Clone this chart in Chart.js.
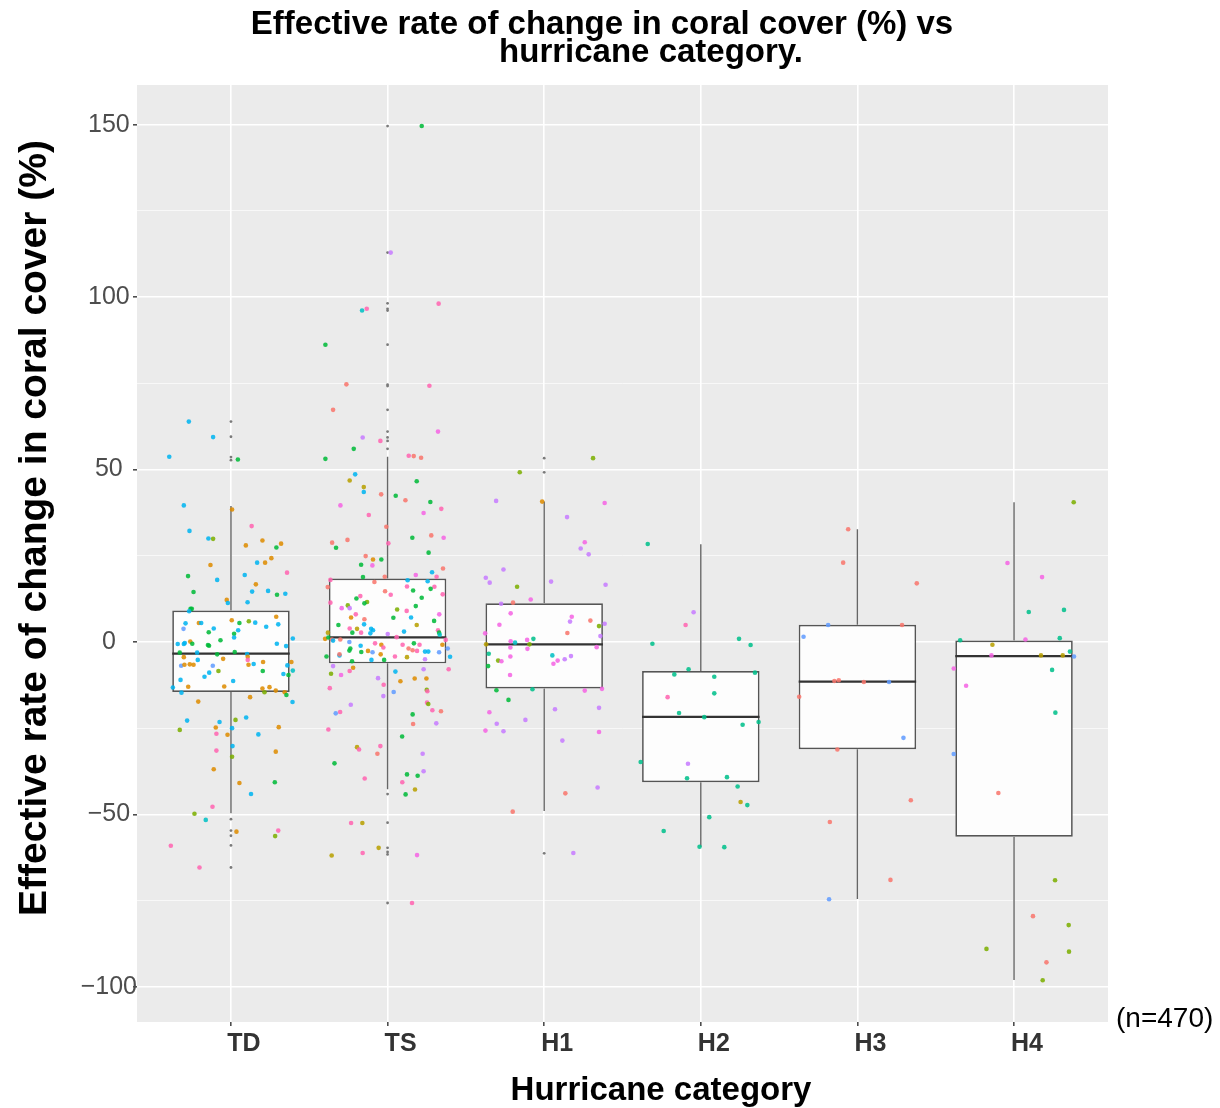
<!DOCTYPE html>
<html>
<head>
<meta charset="utf-8">
<title>Effective rate of change in coral cover vs hurricane category</title>
<script src="https://cdn.jsdelivr.net/npm/chart.js@4.4.1/dist/chart.umd.min.js"></script>
<style>
  html, body { margin: 0; padding: 0; background: #ffffff; }
  canvas { display: block; }
</style>
</head>
<body>
<canvas id="chart" width="1220" height="1108"></canvas>
<script>
// ---- Categories and box statistics ----
const categories = ['TD', 'TS', 'H1', 'H2', 'H3', 'H4'];
const q1          = [-14.5, -6.2, -13.5, -40.7, -31.1, -56.5];
const q3          = [  9.1, 18.4,  11.2,  -8.4,   5.0,   0.4];
const medians     = [ -3.4,  1.3,  -0.7, -21.7, -11.5,  -4.1];
const whiskerLow  = [-49.7, -42.7, -49.0, -59.4, -74.5, -98.0];
const whiskerHigh = [ 39.4, 53.7,  40.7,  28.3,  32.7,  40.5];

// Outliers drawn by the box layer (centred on each category)
const tdOutliers = [63.9, 59.5, 53.6, 52.7, -51.4, -54.7, -56.2, -59.0, -65.4];
const tsOutliers = [149.6, 112.9, 98.2, 96.6, 96.1, 86.2, 74.6, 74.2, 67.3, 61.0, 59.3, 58.3, 56.0,
                    -44.1, -52.4, -59.7, -60.9, -61.6, -75.7];
const h1Outliers = [53.3, 49.2, -61.3];
const h2Outliers = [];
const h3Outliers = [];
const h4Outliers = [];

// ---- Axis ticks ----
const yMajorTicks = [-100, -50, 0, 50, 100, 150];
const yMinorTicks = [-75, -25, 25, 75, 125];

// Group colour palette (index used by the third field of each point)
const groupColors = ['#F8766D', '#DE8C00', '#B79F00', '#7CAE00', '#00BA38', '#00C08B',
                     '#00BFC4', '#00B4F0', '#619CFF', '#C77CFF', '#F564E3', '#FF64B0'];

// ---- Individual observations: [horizontal jitter, value (%), group] ----
const tdPoints = [
  [-0.269, 63.9, 7], [-0.114, 59.4, 7], [-0.394, 53.7, 7], [0.044, 52.9, 4], [-0.301, 39.6, 7],
  [0.007, 38.4, 1], [0.132, 33.6, 11], [-0.265, 32.2, 7], [-0.144, 30.0, 7], [-0.114, 29.9, 3],
  [0.201, 29.4, 1], [0.095, 28.0, 1], [0.320, 28.5, 1], [0.290, 27.4, 4], [0.258, 24.3, 1],
  [-0.131, 22.3, 1], [0.167, 23.0, 7], [0.218, 23.0, 1], [0.358, 20.1, 11], [-0.274, 19.1, 4],
  [0.088, 19.4, 7], [-0.088, 18.0, 7], [0.159, 16.7, 1], [-0.239, 14.5, 4], [0.135, 14.6, 7],
  [0.237, 14.8, 7], [0.294, 13.7, 4], [0.347, 14.0, 7], [-0.027, 12.2, 1], [-0.020, 11.3, 7],
  [0.106, 11.5, 7], [-0.258, 9.6, 4], [-0.250, 9.6, 4], [-0.267, 8.9, 7], [-0.290, 5.4, 7],
  [-0.205, 5.5, 1], [-0.190, 5.5, 7], [0.005, 6.3, 1], [0.054, 5.5, 4], [0.114, 6.0, 3],
  [0.155, 5.6, 7], [0.289, 7.3, 1], [0.302, 5.1, 7], [0.225, 4.4, 7], [-0.303, 3.8, 8],
  [-0.110, 3.9, 7], [-0.142, 2.8, 4], [0.046, 3.4, 7], [0.020, 2.4, 4], [0.020, 1.3, 7],
  [-0.067, 0.5, 4], [0.395, 1.0, 7], [-0.260, 0.1, 1], [-0.247, -0.5, 4], [-0.340, -0.6, 7],
  [-0.301, -0.6, 7], [-0.295, -0.3, 7], [-0.147, -0.9, 4], [-0.140, -1.1, 4], [0.293, -0.5, 7],
  [0.352, -1.2, 7], [-0.327, -3.1, 4], [-0.216, -3.1, 7], [-0.088, -3.6, 4], [0.024, -2.9, 4],
  [0.103, -3.5, 7], [-0.301, -4.4, 1], [-0.212, -5.2, 7], [-0.050, -4.9, 1], [0.107, -4.3, 1],
  [0.107, -5.2, 11], [0.205, -5.8, 1], [0.145, -6.4, 7], [0.112, -6.6, 1], [-0.318, -6.9, 8],
  [-0.297, -6.6, 1], [-0.263, -6.5, 1], [-0.239, -6.6, 1], [-0.116, -6.9, 8], [0.360, -6.8, 7],
  [0.386, -5.8, 1], [0.203, -8.4, 4], [-0.080, -8.4, 3], [-0.139, -8.9, 7], [0.335, -9.3, 7],
  [0.367, -9.6, 4], [0.395, -8.3, 6], [-0.169, -10.1, 7], [-0.322, -11.0, 7], [0.014, -11.3, 7],
  [-0.371, -13.2, 7], [-0.273, -13.0, 1], [-0.043, -12.9, 1], [0.201, -13.5, 1], [0.246, -13.1, 1],
  [0.286, -14.1, 1], [0.343, -14.6, 1], [0.214, -14.6, 3], [0.354, -15.4, 4], [-0.316, -14.7, 7],
  [-0.209, -17.3, 1], [0.122, -16.0, 1], [0.393, -17.4, 7], [-0.280, -22.8, 7], [-0.073, -23.2, 7],
  [0.029, -22.6, 3], [0.097, -21.9, 7], [-0.327, -25.5, 3], [-0.097, -24.8, 1], [0.007, -25.0, 7],
  [0.305, -24.7, 1], [-0.093, -26.6, 11], [-0.022, -26.9, 1], [0.175, -26.8, 7], [0.010, -30.2, 7],
  [-0.093, -31.5, 11], [0.286, -31.8, 1], [0.007, -33.3, 3], [-0.110, -36.9, 1], [0.054, -40.9, 1],
  [0.280, -40.7, 4], [0.128, -44.1, 7], [-0.118, -47.8, 11], [-0.233, -49.8, 3], [-0.161, -51.6, 6],
  [0.035, -55.0, 1], [0.302, -54.7, 11], [0.282, -56.3, 3], [-0.384, -59.1, 11], [-0.201, -65.4, 11]
];

const tsPoints = [
  [0.218, 149.6, 4], [0.020, 112.9, 9], [0.326, 98.1, 11], [-0.163, 96.1, 6], [-0.133, 96.6, 11],
  [-0.397, 86.2, 4], [-0.263, 74.7, 0], [0.267, 74.3, 11], [-0.348, 67.3, 0], [0.322, 61.0, 10],
  [-0.159, 59.3, 9], [-0.046, 58.3, 11], [-0.216, 56.0, 4], [-0.397, 53.1, 4], [0.135, 54.0, 11],
  [0.167, 53.9, 0], [0.214, 53.4, 0], [-0.207, 48.6, 7], [-0.242, 46.8, 2], [0.186, 46.6, 4],
  [-0.152, 44.9, 2], [-0.152, 43.5, 7], [-0.041, 42.8, 0], [0.052, 42.4, 4], [0.114, 41.1, 0],
  [0.273, 40.6, 4], [-0.301, 39.6, 10], [0.343, 38.6, 11], [0.230, 37.4, 10], [-0.120, 36.8, 11],
  [-0.008, 33.4, 0], [-0.354, 28.8, 0], [-0.256, 29.6, 0], [-0.329, 27.3, 4], [0.158, 30.2, 4],
  [0.279, 30.9, 0], [0.358, 30.2, 10], [0.005, 28.6, 11], [0.262, 25.9, 4], [-0.140, 24.9, 0],
  [-0.093, 23.9, 1], [-0.040, 23.9, 4], [-0.169, 22.4, 4], [-0.097, 22.2, 10], [0.354, 21.3, 0],
  [0.284, 20.2, 7], [0.180, 19.4, 10], [-0.157, 18.8, 4], [-0.018, 18.9, 0], [0.313, 18.9, 11],
  [0.128, 17.9, 7], [0.256, 17.6, 7], [-0.365, 18.0, 11], [-0.084, 17.4, 0], [-0.382, 15.9, 0],
  [0.124, 16.1, 11], [0.299, 16.0, 11], [0.275, 15.4, 4], [0.163, 14.9, 4], [-0.016, 14.7, 0],
  [0.020, 13.7, 11], [0.352, 13.8, 11], [-0.174, 13.3, 11], [-0.199, 12.6, 4], [0.218, 12.8, 4],
  [-0.365, 11.4, 11], [-0.131, 11.6, 3], [-0.148, 11.2, 4], [-0.254, 10.6, 3], [-0.242, 9.8, 9],
  [0.180, 10.4, 4], [-0.293, 9.8, 10], [0.061, 9.4, 3], [0.122, 9.0, 11], [-0.203, 8.0, 11],
  [0.330, 8.0, 10], [0.150, 7.1, 7], [0.037, 7.0, 4], [-0.233, 7.1, 1], [-0.148, 6.6, 0],
  [0.297, 6.1, 4], [-0.314, 4.9, 4], [-0.150, 5.1, 7], [0.186, 4.9, 2], [-0.242, 3.9, 11],
  [-0.195, 3.8, 2], [-0.105, 3.8, 7], [-0.093, 3.4, 7], [-0.225, 2.7, 4], [-0.169, 2.7, 11],
  [-0.110, 2.5, 7], [0.001, 2.3, 9], [0.105, 3.0, 7], [0.322, 3.4, 11], [0.329, 2.7, 4],
  [0.333, 2.1, 6], [-0.381, 2.7, 2], [-0.399, 0.9, 1], [-0.378, 1.3, 4], [-0.355, 0.7, 0],
  [-0.302, 0.7, 0], [-0.348, 0.4, 7], [0.058, 1.4, 11], [0.371, 0.6, 11], [-0.244, 0.0, 8],
  [-0.172, -1.1, 7], [-0.080, -0.4, 11], [-0.040, -0.8, 1], [-0.027, -1.6, 11], [0.096, -0.8, 11],
  [0.168, -0.4, 4], [0.204, -0.8, 11], [0.350, -0.8, 1], [-0.238, -1.9, 4], [-0.244, -2.5, 4],
  [-0.125, -2.6, 1], [-0.096, -3.0, 8], [-0.168, -2.9, 4], [-0.044, -3.6, 1], [0.134, -1.9, 0],
  [0.160, -2.4, 0], [0.188, -2.6, 11], [0.239, -2.8, 7], [0.260, -2.8, 7], [0.329, -3.0, 8],
  [0.384, -1.9, 8], [-0.390, -4.2, 4], [-0.307, -3.9, 7], [-0.307, -3.6, 0], [0.124, -4.4, 2],
  [0.047, -4.2, 11], [0.399, -4.3, 7], [-0.227, -5.6, 4], [-0.103, -5.2, 7], [-0.022, -5.2, 4],
  [0.239, -5.0, 9], [-0.348, -7.0, 9], [-0.220, -7.5, 1], [-0.242, -8.4, 11], [-0.361, -9.2, 3],
  [-0.297, -9.6, 10], [0.050, -8.6, 7], [0.230, -7.9, 9], [0.390, -7.9, 11], [-0.061, -10.5, 9],
  [0.082, -11.4, 1], [0.173, -10.6, 1], [0.248, -10.6, 1], [-0.369, -13.4, 11], [-0.025, -12.4, 11],
  [0.039, -14.5, 8], [0.250, -13.9, 3], [0.254, -14.3, 11], [-0.027, -15.7, 9], [-0.235, -18.2, 9],
  [0.252, -17.6, 11], [0.260, -18.0, 3], [-0.331, -20.7, 8], [-0.303, -20.3, 11], [0.286, -19.8, 11],
  [0.341, -20.1, 0], [0.160, -21.0, 4], [0.163, -23.8, 0], [0.311, -23.6, 9], [-0.378, -25.4, 11],
  [0.093, -27.4, 4], [-0.195, -30.5, 2], [-0.182, -31.2, 11], [-0.046, -30.2, 11], [-0.065, -32.4, 0],
  [0.224, -32.4, 9], [-0.339, -35.2, 4], [0.230, -37.5, 9], [0.124, -38.4, 4], [0.192, -38.8, 4],
  [-0.146, -39.6, 11], [0.094, -40.7, 11], [0.175, -42.8, 2], [0.115, -44.2, 4], [-0.233, -52.5, 11],
  [-0.161, -52.5, 2], [-0.057, -59.7, 2], [-0.357, -61.9, 2], [-0.159, -61.2, 11], [0.188, -61.8, 10],
  [0.156, -75.7, 11]
];

const h1Points = [
  [0.312, 53.3, 3], [-0.156, 49.2, 3], [-0.307, 40.9, 9], [-0.013, 40.7, 1], [0.386, 40.3, 10],
  [0.146, 36.2, 9], [0.259, 28.9, 10], [0.233, 27.1, 9], [0.284, 25.4, 9], [-0.260, 21.0, 9],
  [-0.373, 18.6, 9], [-0.348, 17.2, 9], [-0.173, 16.0, 3], [0.044, 17.5, 9], [0.392, 16.6, 9],
  [-0.086, 12.3, 10], [-0.275, 11.1, 9], [-0.199, 11.4, 0], [-0.214, 8.3, 10], [0.176, 7.3, 10],
  [0.165, 5.9, 9], [0.295, 6.2, 0], [-0.286, 5.0, 10], [0.350, 4.6, 3], [0.386, 5.3, 9],
  [-0.377, 2.5, 10], [0.148, 2.6, 0], [0.359, 1.7, 9], [-0.069, 0.9, 5], [-0.109, 0.6, 10],
  [-0.214, 0.2, 10], [-0.186, -0.2, 6], [-0.094, -0.7, 3], [-0.371, -0.7, 2], [-0.216, -1.6, 10],
  [-0.107, -2.0, 10], [0.335, -1.5, 10], [-0.354, -3.4, 5], [-0.216, -4.2, 10], [0.052, -3.9, 6],
  [0.171, -4.1, 9], [0.131, -5.0, 9], [0.086, -5.4, 10], [0.059, -6.3, 10], [-0.294, -5.4, 3],
  [-0.273, -5.6, 10], [-0.358, -7.0, 4], [-0.218, -9.6, 10], [-0.305, -14.0, 4], [-0.075, -13.7, 5],
  [0.259, -14.1, 10], [0.369, -13.6, 10], [-0.228, -16.8, 4], [-0.350, -20.4, 10], [0.069, -19.5, 9],
  [0.350, -19.1, 9], [-0.303, -23.7, 9], [-0.120, -22.6, 9], [-0.375, -25.7, 10], [-0.260, -25.9, 9],
  [0.350, -26.1, 10], [0.116, -28.6, 9], [0.341, -42.2, 9], [0.135, -43.9, 0], [-0.201, -49.2, 0],
  [0.186, -61.2, 9]
];

const h2Points = [
  [-0.339, 28.4, 5], [-0.046, 8.6, 9], [-0.097, 4.9, 11], [-0.309, -0.5, 5], [0.244, 0.9, 5],
  [0.318, -0.9, 5], [-0.078, -7.9, 5], [-0.169, -9.4, 5], [0.086, -10.1, 5], [0.346, -8.9, 5],
  [0.086, -14.9, 5], [-0.212, -16.0, 11], [-0.139, -20.6, 5], [0.022, -21.8, 5], [0.267, -24.0, 5],
  [0.369, -23.2, 5], [-0.384, -34.8, 5], [-0.082, -35.3, 9], [-0.088, -39.5, 5], [0.167, -39.2, 5],
  [0.235, -41.9, 5], [0.254, -46.4, 2], [0.297, -47.3, 5], [0.054, -50.8, 5], [-0.237, -54.8, 5],
  [-0.008, -59.4, 5], [0.150, -59.5, 5]
];

const h3Points = [
  [-0.059, 32.7, 0], [-0.091, 23.0, 0], [0.379, 17.0, 0], [-0.187, 4.9, 8], [0.285, 4.9, 0],
  [-0.344, 1.5, 8], [-0.147, -11.3, 0], [-0.119, -11.1, 0], [0.041, -11.6, 0], [0.202, -11.6, 8],
  [-0.372, -15.9, 0], [0.294, -27.8, 8], [-0.128, -31.2, 0], [0.341, -45.9, 0], [-0.176, -52.2, 0],
  [0.211, -69.0, 0], [-0.181, -74.6, 8]
];

const h4Points = [
  [0.381, 40.5, 3], [-0.042, 22.9, 10], [0.179, 18.8, 10], [0.094, 8.7, 5], [0.319, 9.3, 5],
  [0.073, 0.7, 10], [0.292, 1.1, 5], [-0.344, 0.5, 5], [-0.138, -0.8, 2], [0.357, -2.8, 5],
  [-0.144, -3.9, 10], [0.172, -3.9, 2], [0.311, -3.9, 2], [0.383, -4.2, 8], [-0.385, -7.7, 10],
  [0.243, -8.1, 5], [-0.306, -12.7, 10], [0.264, -20.5, 5], [-0.385, -32.5, 8], [-0.100, -43.8, 0],
  [0.262, -69.1, 3], [0.121, -79.5, 0], [0.349, -82.1, 3], [-0.176, -89.0, 3], [0.351, -89.8, 3],
  [0.207, -92.9, 0], [0.183, -98.1, 3]
];

const pointsByCategory = [tdPoints, tsPoints, h1Points, h2Points, h3Points, h4Points];
const outliersByCategory = [tdOutliers, tsOutliers, h1Outliers, h2Outliers, h3Outliers, h4Outliers];

// ---- Text ----
const titleLines = ['Effective rate of change in coral cover (%) vs', 'hurricane category.'];
const xTitle = 'Hurricane category';
const yTitle = 'Effective rate of change in coral cover (%)';
const sampleNote = '(n=470)';

// ---- Derived datasets ----
const BOX_HALF = 0.375;
const boxData = categories.map((c, i) => ({ x: i + 1, y: [q1[i], q3[i]] }));

const whiskerData = [];
categories.forEach((c, i) => {
  const x = i + 1;
  whiskerData.push({ x, y: q3[i] }, { x, y: whiskerHigh[i] }, { x, y: null },
                   { x, y: q1[i] }, { x, y: whiskerLow[i] }, { x, y: null });
});

const medianData = [];
categories.forEach((c, i) => {
  medianData.push({ x: i + 1 - BOX_HALF, y: medians[i] },
                  { x: i + 1 + BOX_HALF, y: medians[i] },
                  { x: i + 1 + BOX_HALF, y: null });
});

const outlierData = [];
outliersByCategory.forEach((vals, i) => vals.forEach(v => outlierData.push({ x: i + 1, y: v })));

const jitterData = [];
const jitterColors = [];
pointsByCategory.forEach((pts, i) => pts.forEach(p => {
  jitterData.push({ x: i + 1 + p[0], y: p[1] });
  jitterColors.push(groupColors[p[2]] + 'DD');
}));

const isMinor = v => yMinorTicks.includes(v);
const formatY = v => (v < 0 ? '\u2212' + Math.abs(v) : String(v));

const FONT = '"Liberation Sans", Arial, Helvetica, sans-serif';

// Panel background plus titles and the sample-size note
const decorations = {
  id: 'decorations',
  beforeDraw(chart) {
    const { ctx, chartArea: a } = chart;
    ctx.save();
    ctx.fillStyle = '#ffffff';
    ctx.fillRect(0, 0, chart.width, chart.height);
    ctx.fillStyle = '#EBEBEB';
    ctx.fillRect(a.left, a.top, a.right - a.left, a.bottom - a.top);
    ctx.restore();
  },
  afterDraw(chart) {
    const ctx = chart.ctx;
    ctx.save();
    ctx.fillStyle = '#000000';
    ctx.textBaseline = 'alphabetic';
    ctx.textAlign = 'center';
    ctx.font = 'bold 33px ' + FONT;
    ctx.fillText(titleLines[0], 602, 34);
    ctx.fillText(titleLines[1], 651, 62);
    ctx.fillText(xTitle, 661, 1100);

    ctx.save();
    ctx.font = 'bold 39px ' + FONT;
    ctx.translate(46, 528);
    ctx.rotate(-Math.PI / 2);
    ctx.fillText(yTitle, 0, 0);
    ctx.restore();

    ctx.textAlign = 'left';
    ctx.font = '28px ' + FONT;
    ctx.fillText(sampleNote, 1116, 1027);
    ctx.restore();
  }
};

new Chart(document.getElementById('chart'), {
  type: 'bar',
  data: {
    datasets: [
      {
        type: 'scatter',
        data: jitterData,
        backgroundColor: jitterColors,
        borderWidth: 0,
        pointRadius: 2.3,
        pointHoverRadius: 2.3,
        order: 0
      },
      {
        type: 'scatter',
        data: outlierData,
        backgroundColor: '#7a7a7a',
        borderWidth: 0,
        pointRadius: 1.4,
        pointHoverRadius: 1.4,
        order: 1
      },
      {
        type: 'line',
        data: medianData,
        borderColor: '#333333',
        borderWidth: 2.2,
        pointRadius: 0,
        spanGaps: false,
        order: 2
      },
      {
        type: 'line',
        data: whiskerData,
        borderColor: '#666666',
        borderWidth: 1.4,
        pointRadius: 0,
        spanGaps: false,
        order: 3
      },
      {
        type: 'bar',
        data: boxData,
        backgroundColor: '#FDFDFD',
        borderColor: '#555555',
        borderWidth: 1.7,
        borderSkipped: false,
        barPercentage: 2 * BOX_HALF,
        categoryPercentage: 1,
        order: 4
      }
    ]
  },
  options: {
    responsive: false,
    devicePixelRatio: 1,
    animation: false,
    events: [],
    layout: { padding: { top: 85, right: 112, left: 0, bottom: 0 } },
    plugins: {
      legend: { display: false },
      tooltip: { enabled: false },
      title: { display: false }
    },
    scales: {
      x: {
        type: 'linear',
        min: 0.4,
        max: 6.6,
        offset: false,
        bounds: 'data',
        afterBuildTicks: s => { s.ticks = categories.map((c, i) => ({ value: i + 1 })); },
        afterFit: s => { s.height = 86; },
        border: { display: false },
        grid: {
          offset: false,
          color: '#ffffff',
          lineWidth: 1.6,
          drawTicks: true,
          tickLength: 4,
          tickColor: '#4d4d4d'
        },
        ticks: {
          autoSkip: false,
          maxRotation: 0,
          minRotation: 0,
          labelOffset: 13,
          padding: 3,
          color: '#333333',
          font: { family: FONT, size: 25, weight: 'bold' },
          callback: v => categories[Math.round(v) - 1]
        }
      },
      y: {
        type: 'linear',
        min: -110.2,
        max: 161.5,
        bounds: 'data',
        afterBuildTicks: s => {
          s.ticks = [...yMajorTicks, ...yMinorTicks].sort((a, b) => a - b).map(v => ({ value: v }));
        },
        afterFit: s => { s.width = 137; },
        border: { display: false },
        grid: {
          color: ctx => (isMinor(ctx.tick.value) ? 'rgba(255,255,255,0.8)' : '#ffffff'),
          lineWidth: ctx => (isMinor(ctx.tick.value) ? 0.8 : 1.6),
          drawTicks: true,
          tickLength: 4,
          tickColor: ctx => (isMinor(ctx.tick.value) ? 'rgba(0,0,0,0)' : '#4d4d4d')
        },
        ticks: {
          autoSkip: false,
          crossAlign: 'center',
          padding: -4,
          color: '#4d4d4d',
          font: { family: FONT, size: 25 },
          callback: v => (isMinor(v) ? '' : formatY(v))
        }
      }
    }
  },
  plugins: [decorations]
});
</script>
</body>
</html>
